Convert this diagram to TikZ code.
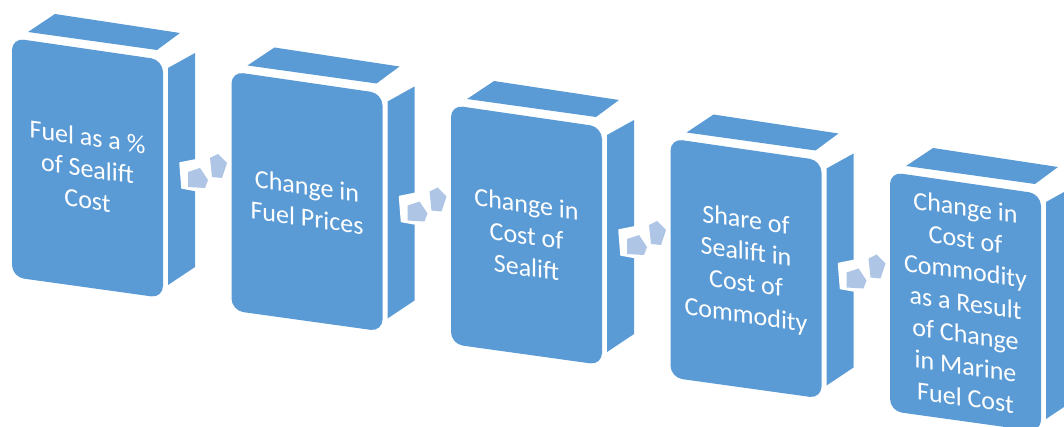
\documentclass[tikz,border=0pt]{standalone}
\usepackage{fontspec}
\setmainfont{Carlito}
\definecolor{boxblue}{RGB}{91,155,213}
\definecolor{arrowblue}{RGB}{175,197,230}
\tikzset{
  face/.style={fill=boxblue, draw=none},
  frontface/.style={fill=boxblue, draw=none, rounded corners=12pt},
  boxlabel/.style={text=white, font=\fontsize{26}{31.7}\selectfont, align=center, yslant=-0.14, inner sep=0pt},
  arrsil/.style={fill=white, draw=white, line width=1.5pt, line join=round},
  arrpart/.style={fill=arrowblue, draw=none}
}
\newcommand\stepbox[4]{%
  \begin{scope}[shift={(#1,#2)}]
    \path[face] (16,-6) -- (43,-24) -- (168,-5) -- (145,12) -- cycle;
    \path[face] (156,30) -- (183,15) -- (183,229) -- (156,247) -- cycle;
    \path[frontface] (0,0) -- (151,22) -- (151,260) -- (0,239) -- cycle;
    \node[boxlabel] (#3) at (75.5,130.5) {#4};
  \end{scope}}
\newcommand\steparrow[2]{%
  \begin{scope}[shift={(#1,#2)}]
    \path[arrsil] (168,125) -- (183,122) -- (198,113) -- (210,114) -- (217,129) -- (208,148) -- (192,154) -- (170,150) -- cycle;
    \path[arrpart] (176,134) -- (188,130) -- (196,142) -- (193,150) -- (176,149) -- cycle;
    \path[arrpart] (198,120) -- (206,116) -- (215,125) -- (210,140) -- (200,139) -- cycle;
  \end{scope}}
\begin{document}
\begin{tikzpicture}[x=1pt,y=-1pt]
  \useasboundingbox (0,0) rectangle (1064,427);
  \clip (0,0) rectangle (1064,427);
  \stepbox{12}{38}{b1}{Fuel as a \%\\of Sealift\\Cost}
  \stepbox{231.5}{71.5}{b2}{Change in\\Fuel Prices}
  \stepbox{451}{105}{b3}{Change in\\Cost of\\Sealift}
  \stepbox{670.5}{138.5}{b4}{Share of\\Sealift in\\Cost of\\Commodity}
  \stepbox{890}{172}{b5}{Change in\\Cost of\\Commodity\\as a Result\\of Change\\in Marine\\Fuel Cost}
  \steparrow{12}{38}
  \steparrow{231.5}{71.5}
  \steparrow{451}{105}
  \steparrow{670.5}{138.5}
\end{tikzpicture}
\end{document}
